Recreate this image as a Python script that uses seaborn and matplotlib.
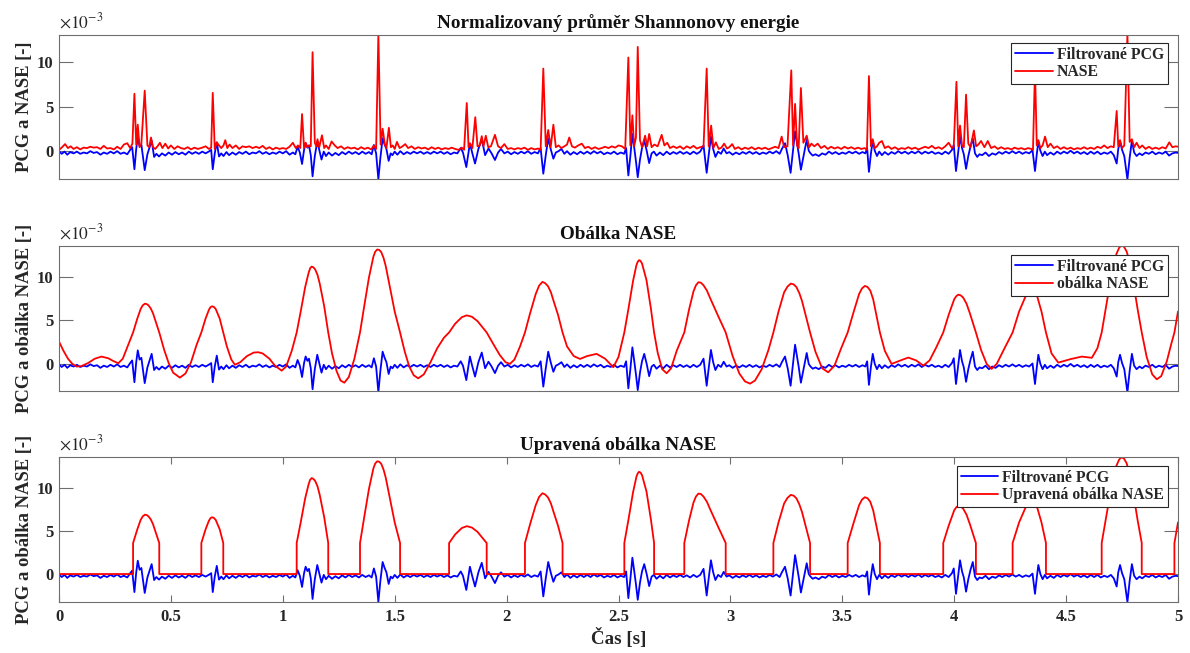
import matplotlib
matplotlib.use("Agg")
import matplotlib.pyplot as plt
import pandas as pd
import seaborn as sns

# all amplitudes in units of 1e-3
pcg_points = [
    (0.000, -0.05), (0.012, -0.35), (0.025, -0.1), (0.037, -0.45), (0.050, -0.15), (0.065, -0.3),
    (0.080, -0.1), (0.095, -0.35), (0.110, -0.2), (0.125, -0.3), (0.140, -0.05), (0.155, -0.25),
    (0.170, -0.15), (0.185, -0.45), (0.200, -0.2), (0.215, -0.35), (0.230, -0.1), (0.245, -0.3),
    (0.260, -0.05), (0.275, -0.35), (0.290, -0.2), (0.305, -0.4), (0.318, 0.1), (0.327, 0.4),
    (0.337, -2.1), (0.345, 0.2), (0.352, 1.55), (0.360, 0.5), (0.368, 0.7), (0.383, -2.2),
    (0.395, -0.4), (0.414, 1.15), (0.425, -0.7), (0.435, -0.35), (0.447, -0.65), (0.460, -0.3),
    (0.475, -0.55), (0.490, -0.2), (0.505, -0.45), (0.520, -0.15), (0.535, -0.4), (0.550, -0.2),
    (0.565, -0.45), (0.580, -0.1), (0.595, -0.35), (0.610, -0.15), (0.625, -0.35), (0.640, -0.1),
    (0.655, -0.3), (0.672, -0.05), (0.680, 0.1), (0.687, -2.1), (0.696, -0.3), (0.705, 0.95),
    (0.715, -0.65), (0.725, -0.3), (0.735, -0.6), (0.748, -0.15), (0.760, -0.5), (0.775, -0.2),
    (0.790, -0.45), (0.805, -0.15), (0.820, -0.35), (0.835, -0.1), (0.850, -0.4), (0.865, -0.2),
    (0.880, -0.3), (0.895, -0.05), (0.910, -0.35), (0.925, -0.15), (0.940, -0.4), (0.955, -0.2),
    (0.970, -0.35), (0.985, -0.1), (1.000, -0.3), (1.015, -0.05), (1.030, -0.45), (1.045, -0.2),
    (1.056, -0.4), (1.066, 0.45), (1.076, -0.2), (1.086, -1.5), (1.095, 0.1), (1.102, 0.85),
    (1.110, 0.35), (1.117, 0.6), (1.125, -0.5), (1.133, -2.9), (1.143, -0.6), (1.154, 1.05),
    (1.163, 0.1), (1.173, -1.0), (1.183, -0.1), (1.193, -0.6), (1.205, -0.2), (1.220, -0.55),
    (1.235, -0.25), (1.250, -0.5), (1.265, -0.15), (1.280, -0.4), (1.295, -0.1), (1.310, -0.35),
    (1.325, -0.15), (1.340, -0.4), (1.355, -0.1), (1.370, -0.35), (1.385, -0.15), (1.397, -0.4),
    (1.407, 0.65), (1.417, -0.3), (1.427, -3.25), (1.436, -0.8), (1.446, 1.4), (1.455, 0.7),
    (1.463, 0.2), (1.473, -1.15), (1.482, -0.3), (1.490, -0.5), (1.500, -0.1), (1.512, -0.45),
    (1.525, -0.05), (1.540, -0.4), (1.555, -0.15), (1.570, -0.35), (1.585, -0.1), (1.600, -0.3),
    (1.615, -0.1), (1.630, -0.35), (1.645, -0.15), (1.660, -0.35), (1.675, -0.1), (1.690, -0.3),
    (1.705, -0.1), (1.720, -0.35), (1.735, -0.15), (1.750, -0.4), (1.765, -0.2), (1.780, -0.3),
    (1.795, 0.3), (1.805, -0.2), (1.820, -1.85), (1.836, 0.85), (1.846, -0.2), (1.859, -1.45),
    (1.874, 0.2), (1.889, 1.3), (1.904, -0.5), (1.919, 0.25), (1.933, -0.3), (1.948, -1.05),
    (1.962, -0.2), (1.975, 0.2), (1.990, -0.3), (2.005, -0.1), (2.020, -0.4), (2.035, -0.15),
    (2.050, -0.35), (2.065, -0.1), (2.080, -0.3), (2.095, -0.05), (2.110, -0.35), (2.125, -0.15),
    (2.140, -0.3), (2.152, 0.3), (2.164, -2.6), (2.175, -0.5), (2.186, 1.4), (2.197, 0.2),
    (2.209, -0.9), (2.220, -0.2), (2.232, -0.05), (2.245, 0.2), (2.258, -0.35), (2.270, -0.05),
    (2.285, -0.45), (2.300, -0.15), (2.315, -0.4), (2.330, -0.1), (2.345, -0.35), (2.360, -0.1),
    (2.375, -0.35), (2.390, -0.05), (2.405, -0.3), (2.420, -0.1), (2.435, -0.4), (2.450, -0.2),
    (2.465, -0.35), (2.480, -0.1), (2.495, -0.4), (2.510, -0.2), (2.525, -0.35), (2.534, 0.3),
    (2.544, -2.8), (2.553, -0.6), (2.562, 1.9), (2.570, 0.4), (2.578, -1.2), (2.586, -3.0),
    (2.596, -1.0), (2.605, 0.3), (2.615, 1.15), (2.626, 0.0), (2.637, -1.4), (2.648, -0.3),
    (2.658, -0.1), (2.670, -0.55), (2.685, -0.2), (2.700, -0.5), (2.715, -0.1), (2.730, -0.4),
    (2.745, -0.15), (2.760, -0.35), (2.775, -0.1), (2.790, -0.35), (2.805, -0.15), (2.820, -0.4),
    (2.835, -0.1), (2.850, -0.35), (2.865, -0.1), (2.880, 0.6), (2.894, -2.5), (2.903, -0.5),
    (2.913, 1.6), (2.923, 0.2), (2.933, -0.7), (2.945, -0.1), (2.958, -0.35), (2.970, 0.25),
    (2.983, -0.3), (2.995, -0.15), (3.010, -0.45), (3.025, -0.2), (3.040, -0.4), (3.055, -0.15),
    (3.070, -0.35), (3.085, -0.1), (3.100, -0.35), (3.115, -0.15), (3.130, -0.4), (3.145, -0.2),
    (3.160, -0.35), (3.175, -0.1), (3.190, -0.3), (3.205, -0.05), (3.220, -0.35), (3.230, 0.2),
    (3.244, 0.85), (3.256, -0.5), (3.269, -2.5), (3.279, -0.2), (3.289, 2.2), (3.298, 0.8),
    (3.305, -0.3), (3.315, -2.15), (3.326, -0.7), (3.341, 1.25), (3.350, 0.0), (3.358, -0.3),
    (3.368, -0.55), (3.380, -0.4), (3.395, -0.6), (3.410, -0.3), (3.425, -0.45), (3.440, -0.1),
    (3.455, -0.35), (3.470, -0.15), (3.485, -0.4), (3.500, -0.2), (3.515, -0.35), (3.530, -0.1),
    (3.545, -0.3), (3.560, -0.1), (3.575, -0.35), (3.590, -0.15), (3.603, -0.3), (3.611, 0.3),
    (3.619, -2.4), (3.628, -0.3), (3.636, 1.15), (3.645, 0.0), (3.655, -0.6), (3.665, -0.1),
    (3.677, -0.5), (3.690, -0.15), (3.705, -0.45), (3.720, -0.15), (3.735, -0.35), (3.750, -0.05),
    (3.765, -0.3), (3.780, -0.1), (3.795, -0.35), (3.810, -0.1), (3.825, -0.3), (3.840, -0.05),
    (3.855, -0.35), (3.870, -0.1), (3.885, -0.3), (3.900, -0.1), (3.915, -0.35), (3.930, -0.2),
    (3.945, -0.4), (3.960, -0.1), (3.975, -0.35), (3.990, 0.1), (3.998, 0.65), (4.008, -2.3),
    (4.017, -0.3), (4.026, 1.6), (4.035, 0.3), (4.043, -0.4), (4.053, -2.05), (4.063, -0.6),
    (4.073, 0.5), (4.083, 1.4), (4.093, -0.3), (4.103, -0.7), (4.113, -0.4), (4.125, -0.5),
    (4.140, -0.2), (4.155, -0.6), (4.170, -0.3), (4.185, -0.45), (4.200, -0.15), (4.215, -0.35),
    (4.230, -0.1), (4.245, -0.3), (4.260, -0.05), (4.275, -0.3), (4.290, -0.1), (4.305, -0.35),
    (4.320, -0.15), (4.335, -0.3), (4.350, 0.05), (4.361, -2.3), (4.369, -0.4), (4.376, 1.05),
    (4.385, 0.0), (4.395, -0.6), (4.405, -0.1), (4.415, -0.5), (4.430, -0.2), (4.445, -0.45),
    (4.460, -0.1), (4.475, -0.35), (4.490, -0.1), (4.505, -0.3), (4.520, 0.0), (4.535, -0.3),
    (4.550, -0.1), (4.565, -0.35), (4.580, -0.15), (4.595, -0.4), (4.610, -0.1), (4.625, -0.35),
    (4.640, -0.1), (4.655, -0.4), (4.670, -0.2), (4.685, -0.35), (4.700, -0.1), (4.713, -0.5),
    (4.726, -1.45), (4.733, 0.2), (4.741, 1.05), (4.750, 0.1), (4.760, -0.6), (4.774, -3.25),
    (4.784, -0.8), (4.794, 1.15), (4.804, -0.2), (4.815, -0.6), (4.828, -0.3), (4.840, -0.5),
    (4.855, -0.2), (4.870, -0.35), (4.885, -0.1), (4.900, -0.4), (4.915, -0.2), (4.930, -0.35),
    (4.945, -0.1), (4.960, -0.55), (4.975, -0.3), (4.990, -0.2), (5.000, -0.25),
]

nase_points = [
    (0.000, 0.1), (0.012, 0.35), (0.027, 0.75), (0.040, 0.3), (0.052, 0.5), (0.065, 0.2),
    (0.080, 0.4), (0.095, 0.15), (0.110, 0.35), (0.125, 0.3), (0.140, 0.45), (0.155, 0.35),
    (0.170, 0.4), (0.185, 0.2), (0.200, 0.55), (0.215, 0.25), (0.230, 0.3), (0.245, 0.15),
    (0.260, 0.45), (0.275, 0.2), (0.290, 0.7), (0.305, 0.85), (0.318, 0.3), (0.328, 0.8),
    (0.337, 6.45), (0.345, 0.7), (0.352, 2.95), (0.360, 0.4), (0.368, 0.8), (0.383, 6.8),
    (0.395, 0.6), (0.403, 0.4), (0.411, 1.5), (0.420, 0.4), (0.430, 0.2), (0.440, 0.5),
    (0.451, 0.9), (0.462, 0.3), (0.475, 0.8), (0.488, 0.25), (0.500, 0.6), (0.515, 0.2),
    (0.530, 0.5), (0.545, 0.3), (0.560, 0.2), (0.575, 0.4), (0.590, 0.15), (0.605, 0.35),
    (0.620, 0.2), (0.640, 0.35), (0.655, 0.5), (0.670, 0.2), (0.680, 0.35), (0.687, 6.55),
    (0.696, 0.2), (0.705, 0.95), (0.715, 0.6), (0.725, 0.3), (0.735, 0.6), (0.743, 1.2),
    (0.752, 0.3), (0.762, 0.7), (0.775, 0.3), (0.790, 0.6), (0.805, 0.2), (0.820, 0.5),
    (0.835, 0.4), (0.850, 0.5), (0.865, 0.3), (0.880, 0.45), (0.895, 0.3), (0.910, 0.55),
    (0.925, 0.2), (0.940, 0.4), (0.955, 0.15), (0.970, 0.35), (0.985, 0.2), (1.000, 0.3),
    (1.015, 0.2), (1.030, 0.45), (1.045, 0.9), (1.058, 0.3), (1.068, 0.6), (1.078, 0.3),
    (1.086, 4.15), (1.095, 0.3), (1.102, 0.9), (1.110, 0.4), (1.118, 0.6), (1.125, 0.5),
    (1.133, 11.15), (1.143, 0.9), (1.150, 0.5), (1.155, 1.3), (1.163, 0.4), (1.175, 1.75),
    (1.185, 0.3), (1.193, 0.6), (1.205, 0.2), (1.218, 1.05), (1.232, 0.6), (1.245, 0.3),
    (1.260, 0.5), (1.275, 0.2), (1.290, 0.4), (1.305, 0.25), (1.320, 0.35), (1.335, 0.15),
    (1.350, 0.4), (1.365, 0.2), (1.380, 0.35), (1.395, 0.15), (1.407, 0.6), (1.417, 0.2),
    (1.427, 13.2), (1.437, 0.7), (1.446, 2.5), (1.456, 0.7), (1.463, 0.3), (1.474, 2.6),
    (1.483, 0.4), (1.491, 0.6), (1.500, 0.2), (1.510, 1.0), (1.522, 0.3), (1.535, 0.5),
    (1.547, 0.75), (1.560, 0.3), (1.575, 0.5), (1.590, 0.2), (1.605, 0.4), (1.620, 0.25),
    (1.635, 0.35), (1.650, 0.15), (1.665, 0.4), (1.680, 0.2), (1.695, 0.35), (1.710, 0.15),
    (1.725, 0.3), (1.740, 0.2), (1.755, 0.35), (1.770, 0.2), (1.785, 0.1), (1.800, 0.35),
    (1.810, 0.1), (1.822, 5.4), (1.830, 0.4), (1.837, 0.8), (1.847, 0.3), (1.860, 3.8),
    (1.870, 0.5), (1.880, 0.6), (1.889, 1.65), (1.897, 0.5), (1.907, 1.7), (1.918, 0.4),
    (1.930, 0.5), (1.948, 1.8), (1.962, 0.5), (1.975, 0.3), (1.990, 0.75), (2.005, 0.2),
    (2.020, 0.3), (2.035, 0.15), (2.050, 0.3), (2.065, 0.2), (2.080, 0.35), (2.095, 0.1),
    (2.110, 0.3), (2.125, 0.15), (2.140, 0.25), (2.152, 0.1), (2.164, 9.3), (2.175, 0.5),
    (2.186, 2.35), (2.197, 0.4), (2.209, 2.95), (2.220, 0.4), (2.232, 0.6), (2.245, 0.3),
    (2.258, 0.5), (2.270, 0.7), (2.280, 1.5), (2.292, 0.5), (2.305, 0.35), (2.320, 0.6),
    (2.336, 0.8), (2.350, 0.3), (2.365, 0.45), (2.380, 0.2), (2.395, 0.4), (2.410, 0.2),
    (2.425, 0.3), (2.440, 0.45), (2.455, 0.3), (2.470, 0.5), (2.485, 0.35), (2.500, 0.6),
    (2.515, 0.5), (2.530, 0.2), (2.544, 10.55), (2.553, 0.6), (2.562, 4.0), (2.570, 0.5),
    (2.578, 1.5), (2.586, 11.75), (2.596, 1.2), (2.605, 0.4), (2.619, 1.7), (2.628, 0.5),
    (2.637, 1.9), (2.648, 0.4), (2.660, 0.7), (2.675, 0.5), (2.693, 1.8), (2.705, 0.6),
    (2.718, 0.9), (2.730, 0.3), (2.745, 0.5), (2.760, 0.3), (2.775, 0.5), (2.790, 0.2),
    (2.805, 0.5), (2.820, 0.3), (2.835, 0.55), (2.850, 0.25), (2.865, 0.4), (2.880, 0.5),
    (2.894, 9.3), (2.903, 0.5), (2.914, 2.85), (2.924, 0.3), (2.935, 0.95), (2.948, 0.2),
    (2.960, 0.35), (2.972, 0.8), (2.985, 0.25), (2.995, 0.4), (3.008, 0.75), (3.020, 0.2),
    (3.035, 0.4), (3.050, 0.15), (3.065, 0.35), (3.080, 0.2), (3.095, 0.4), (3.110, 0.15),
    (3.125, 0.35), (3.140, 0.2), (3.155, 0.35), (3.170, 0.15), (3.185, 0.3), (3.200, 0.45),
    (3.215, 0.3), (3.229, 1.6), (3.240, 0.4), (3.255, 0.5), (3.272, 9.1), (3.280, 0.6),
    (3.289, 5.3), (3.298, 0.6), (3.305, 0.3), (3.315, 7.1), (3.326, 0.9), (3.341, 1.7),
    (3.352, 0.4), (3.362, 0.8), (3.375, 0.5), (3.390, 0.8), (3.405, 0.3), (3.420, 0.55),
    (3.435, 0.2), (3.450, 0.45), (3.465, 0.25), (3.480, 0.4), (3.495, 0.2), (3.510, 0.45),
    (3.525, 0.25), (3.540, 0.4), (3.555, 0.2), (3.570, 0.35), (3.585, 0.2), (3.600, 0.3),
    (3.610, 0.1), (3.619, 8.45), (3.628, 0.5), (3.636, 1.3), (3.645, 0.3), (3.655, 0.5),
    (3.665, 0.9), (3.677, 1.1), (3.690, 0.3), (3.705, 0.5), (3.720, 0.2), (3.735, 0.4),
    (3.750, 0.15), (3.765, 0.3), (3.780, 0.2), (3.795, 0.4), (3.810, 0.2), (3.825, 0.35),
    (3.840, 0.15), (3.855, 0.3), (3.870, 0.45), (3.885, 0.3), (3.900, 0.55), (3.915, 0.25),
    (3.930, 0.4), (3.945, 0.2), (3.960, 0.5), (3.975, 0.9), (3.990, 0.3), (3.998, 0.5),
    (4.010, 7.8), (4.018, 0.5), (4.026, 2.85), (4.035, 0.6), (4.043, 0.4), (4.053, 6.35),
    (4.063, 0.8), (4.073, 0.4), (4.088, 2.3), (4.098, 0.5), (4.108, 0.7), (4.120, 1.1),
    (4.135, 0.4), (4.150, 1.1), (4.165, 0.3), (4.180, 0.5), (4.195, 0.2), (4.210, 0.4),
    (4.225, 0.2), (4.240, 0.3), (4.255, 0.15), (4.270, 0.35), (4.285, 0.2), (4.300, 0.3),
    (4.315, 0.15), (4.330, 0.3), (4.345, 0.2), (4.352, 0.1), (4.361, 9.2), (4.369, 0.6),
    (4.376, 1.2), (4.385, 0.3), (4.395, 0.6), (4.406, 1.6), (4.418, 0.4), (4.430, 0.8),
    (4.445, 0.3), (4.460, 0.5), (4.475, 0.2), (4.490, 0.4), (4.505, 0.2), (4.520, 0.35),
    (4.535, 0.15), (4.550, 0.3), (4.565, 0.2), (4.580, 0.4), (4.595, 0.2), (4.610, 0.35),
    (4.625, 0.2), (4.640, 0.45), (4.655, 0.3), (4.670, 0.6), (4.685, 0.3), (4.700, 0.5),
    (4.713, 0.4), (4.726, 4.5), (4.733, 0.5), (4.741, 1.2), (4.750, 0.3), (4.760, 0.6),
    (4.774, 13.3), (4.784, 1.0), (4.794, 1.3), (4.804, 0.4), (4.815, 0.9), (4.828, 0.3),
    (4.840, 0.6), (4.855, 0.2), (4.870, 0.45), (4.885, 0.2), (4.900, 0.35), (4.915, 0.2),
    (4.930, 0.4), (4.945, 0.25), (4.961, 0.95), (4.975, 0.4), (4.990, 0.5), (5.000, 0.45),
]

envelope_points = [
    (0.000, 2.56), (0.020, 1.5), (0.040, 0.6), (0.060, 0.0), (0.079, -0.3), (0.100, -0.25),
    (0.130, 0.1), (0.160, 0.6), (0.190, 0.84), (0.220, 0.65), (0.245, 0.3), (0.265, 0.08),
    (0.285, 0.6), (0.305, 1.9), (0.331, 3.6), (0.350, 5.2), (0.365, 6.3), (0.374, 6.7),
    (0.384, 6.9), (0.392, 6.85), (0.400, 6.7), (0.410, 6.35), (0.420, 5.8), (0.448, 3.6),
    (0.470, 1.6), (0.490, 0.1), (0.510, -1.0), (0.540, -1.57), (0.565, -1.1), (0.590, 0.2),
    (0.615, 2.2), (0.636, 3.6), (0.655, 5.2), (0.670, 6.2), (0.677, 6.5), (0.684, 6.6),
    (0.692, 6.52), (0.700, 6.3), (0.718, 5.2), (0.734, 3.6), (0.750, 2.0), (0.770, 0.5),
    (0.786, -0.1), (0.810, 0.2), (0.840, 0.9), (0.870, 1.3), (0.890, 1.34), (0.910, 1.2),
    (0.940, 0.6), (0.965, -0.2), (0.995, -0.77), (1.015, -0.3), (1.040, 1.5), (1.062, 3.6),
    (1.080, 6.0), (1.100, 8.8), (1.115, 10.4), (1.122, 10.95), (1.129, 11.15), (1.137, 11.05),
    (1.145, 10.8), (1.155, 10.2), (1.165, 9.2), (1.185, 6.6), (1.203, 3.6), (1.220, 1.2),
    (1.240, -0.8), (1.258, -1.9), (1.275, -2.15), (1.295, -1.5), (1.320, 0.6), (1.345, 3.6),
    (1.365, 6.8), (1.385, 9.9), (1.405, 12.3), (1.413, 12.85), (1.422, 13.1), (1.431, 13.05),
    (1.440, 12.8), (1.450, 12.15), (1.460, 11.2), (1.480, 8.6), (1.500, 6.0), (1.524, 3.6),
    (1.545, 1.4), (1.565, -0.3), (1.585, -1.3), (1.605, -1.65), (1.630, -1.2), (1.660, 0.2),
    (1.690, 1.8), (1.720, 3.0), (1.743, 3.6), (1.770, 4.6), (1.800, 5.35), (1.822, 5.56),
    (1.845, 5.4), (1.870, 4.9), (1.911, 3.6), (1.940, 2.3), (1.970, 1.0), (1.995, 0.2),
    (2.015, 0.0), (2.035, 0.5), (2.060, 2.0), (2.082, 3.6), (2.105, 5.8), (2.130, 8.0),
    (2.145, 8.95), (2.160, 9.39), (2.172, 9.25), (2.185, 8.9), (2.198, 8.2), (2.210, 7.2),
    (2.230, 5.6), (2.250, 3.6), (2.270, 2.0), (2.300, 0.9), (2.328, 0.57), (2.360, 0.9),
    (2.402, 1.15), (2.440, 0.6), (2.477, -0.38), (2.500, 0.8), (2.526, 3.6), (2.545, 6.4),
    (2.565, 9.5), (2.580, 11.3), (2.586, 11.7), (2.592, 11.88), (2.598, 11.8), (2.605, 11.5),
    (2.625, 9.6), (2.645, 6.3), (2.659, 3.6), (2.675, 1.3), (2.695, -0.6), (2.715, -1.07),
    (2.735, -0.5), (2.760, 1.5), (2.794, 3.6), (2.815, 6.2), (2.835, 8.3), (2.846, 9.0),
    (2.857, 9.35), (2.868, 9.3), (2.880, 9.0), (2.895, 8.4), (2.910, 7.5), (2.945, 5.5),
    (2.979, 3.6), (3.010, 0.9), (3.040, -1.1), (3.065, -2.0), (3.088, -2.26), (3.110, -1.9),
    (3.140, -0.6), (3.170, 1.6), (3.192, 3.6), (3.215, 6.0), (3.240, 8.2), (3.255, 8.85),
    (3.270, 9.2), (3.283, 9.1), (3.295, 8.8), (3.308, 8.1), (3.320, 7.2), (3.356, 3.6),
    (3.380, 1.4), (3.410, -0.5), (3.437, -0.96), (3.465, -0.2), (3.495, 1.8), (3.524, 3.6),
    (3.550, 5.9), (3.575, 8.0), (3.588, 8.65), (3.601, 8.93), (3.613, 8.8), (3.625, 8.4),
    (3.638, 7.4), (3.650, 5.9), (3.668, 3.6), (3.690, 1.5), (3.720, 0.0), (3.760, 0.4),
    (3.795, 0.73), (3.830, 0.4), (3.862, -0.19), (3.890, 0.4), (3.920, 1.9), (3.951, 3.6),
    (3.975, 5.6), (4.000, 7.4), (4.009, 7.75), (4.018, 7.93), (4.029, 7.85), (4.040, 7.6),
    (4.055, 6.9), (4.070, 5.8), (4.097, 3.6), (4.120, 1.6), (4.145, 0.0), (4.167, -0.57),
    (4.190, 0.0), (4.225, 1.8), (4.261, 3.6), (4.290, 6.0), (4.320, 7.8), (4.333, 8.15),
    (4.345, 8.3), (4.357, 8.2), (4.370, 7.8), (4.390, 6.0), (4.410, 3.6), (4.435, 1.2),
    (4.465, 0.15), (4.520, 0.55), (4.570, 0.84), (4.615, 0.7), (4.640, 1.8), (4.659, 3.6),
    (4.680, 6.8), (4.700, 9.8), (4.725, 12.6), (4.737, 13.3), (4.748, 13.6), (4.759, 13.4),
    (4.770, 12.9), (4.783, 11.8), (4.795, 10.2), (4.820, 6.2), (4.838, 3.6), (4.860, 0.8),
    (4.885, -1.2), (4.905, -1.76), (4.925, -1.4), (4.950, 0.3), (4.970, 2.3), (4.984, 3.6),
    (5.000, 6.0),
]

# where the corrected envelope keeps the envelope (elsewhere it is zero)
segment_starts = [0.331, 0.636, 1.062, 1.345, 1.743, 2.082, 2.526, 2.794, 3.192, 3.524,
                  3.951, 4.261, 4.659, 4.984]
segment_ends = [0.448, 0.734, 1.203, 1.524, 1.911, 2.250, 2.659, 2.979, 3.356, 3.668,
                4.097, 4.410, 4.838, 5.000]

panel_titles = ["Normalizovaný průměr Shannonovy energie", "Obálka NASE", "Upravená obálka NASE"]
panel_ylabels = ["PCG a NASE [-]", "PCG a obálka NASE [-]", "PCG a obálka NASE [-]"]
red_labels = ["NASE", "obálka NASE", "Upravená obálka NASE"]
pcg_label = "Filtrované PCG"
panel_ylims = [(-3.2, 13.1), (-3.1, 13.5), (-3.25, 13.6)]
x_ticks = [0, 0.5, 1, 1.5, 2, 2.5, 3, 3.5, 4, 4.5, 5]
x_ticklabels = ["0", "0.5", "1", "1.5", "2", "2.5", "3", "3.5", "4", "4.5", "5"]
y_ticks = [0, 5, 10]
x_label = "Čas [s]"


def to_frame(points):
    return pd.DataFrame(points, columns=["t", "v"])


def corrected_envelope(env, starts, ends, t_end):
    rows = [(0.0, 0.0)]
    for s, e in zip(starts, ends):
        rows.append((s, 0.0))
        rows += [(t, v) for t, v in zip(env["t"], env["v"]) if s <= t <= e]
        if e < t_end:
            rows.append((e, 0.0))
    return to_frame(rows)


sns.set_theme(style="white")
plt.rcParams["font.family"] = ["Liberation Serif", "DejaVu Serif"]
plt.rcParams["mathtext.fontset"] = "stix"

pcg = to_frame(pcg_points)
nase = to_frame(nase_points)
envelope = to_frame(envelope_points).sort_values("t").reset_index(drop=True)
corrected = corrected_envelope(envelope, segment_starts, segment_ends, 5.0)
red_series = [nase, envelope, corrected]

fig = plt.figure(figsize=(11.9, 6.53), dpi=100)
W, H = 1190, 653
left, width = 59 / W, 1119 / W
boxes = [(35, 179), (246, 391), (457, 602)]
legend_top = [8, 9, 9]
spine_color = "#6e6e6e"

for i, (top, bottom) in enumerate(boxes):
    ax = fig.add_axes([left, 1 - bottom / H, width, (bottom - top) / H])
    sns.lineplot(data=pcg, x="t", y="v", ax=ax, color="#0000ff", lw=1.3,
                 estimator=None, sort=False, label=pcg_label)
    sns.lineplot(data=red_series[i], x="t", y="v", ax=ax, color="#ff0000", lw=1.3,
                 estimator=None, sort=False, label=red_labels[i])
    ax.set_xlim(0, 5)
    ax.set_ylim(*panel_ylims[i])
    ax.set_yticks(y_ticks)
    ax.set_yticklabels([str(v) for v in y_ticks], fontsize=12, fontweight="bold", color="#262626")
    if i == 2:
        ax.set_xticks(x_ticks)
        ax.set_xticklabels(x_ticklabels, fontsize=12, fontweight="bold", color="#262626")
        ax.set_xlabel(x_label, fontsize=13.6, fontweight="bold", labelpad=2, color="#262626")
    else:
        ax.set_xticks([])
        ax.set_xlabel("")
    ax.tick_params(axis="y", direction="in", length=10, width=0.8, color=spine_color,
                   left=True, right=True, pad=4)
    ax.tick_params(axis="x", direction="in", length=5, width=0.8, color=spine_color,
                   bottom=True, top=True, pad=5)
    for sp in ax.spines.values():
        sp.set_color(spine_color)
        sp.set_linewidth(0.8)
    ax.set_ylabel(panel_ylabels[i], fontsize=13.4, fontweight="bold", color="#262626")
    ax.yaxis.set_label_coords(-0.0235, 0.5)
    ax.set_title(panel_titles[i], fontsize=13.8, fontweight="bold", pad=5, color="#111111")
    ax.text(0.0, 1.02, r"$\times10^{-3}$", transform=ax.transAxes, ha="left", va="bottom",
            fontsize=12.5, color="#262626")
    ax.legend(loc="upper right", bbox_to_anchor=(1 - 10 / 1119, 1 - legend_top[i] / (bottom - top)),
              borderaxespad=0, frameon=True, fancybox=False, framealpha=1, edgecolor="#262626",
              prop={"weight": "bold", "size": 11.3}, handlelength=2.4, handletextpad=0.25,
              labelspacing=0.1, borderpad=0.25)
    ax.get_legend().get_frame().set_linewidth(0.8)

fig.savefig("out.png", dpi=100)
